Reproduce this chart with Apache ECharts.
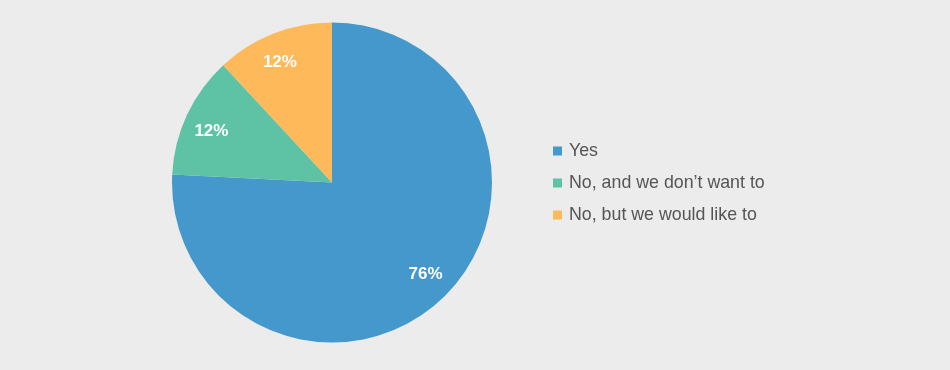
<!DOCTYPE html>
<html><head><meta charset="utf-8">
<script src="https://cdn.jsdelivr.net/npm/echarts@6/dist/echarts.min.js"></script>
<style>html,body{margin:0;padding:0;background:#ebeceb;}#c{width:950px;height:370px;}</style>
</head><body><div id="c"></div>
<script>
const categories = ['Yes', 'No, and we don\u2019t want to', 'No, but we would like to'];
const values = [75.8, 12.3, 11.9];
const labels = ['76%', '12%', '12%'];
const colors = ['#4598cb', '#5ec3a4', '#feb95a'];

const chart = echarts.init(document.getElementById('c'), null, { renderer: 'canvas' });
chart.setOption({
  backgroundColor: '#ebeceb',
  animation: false,
  legend: {
    orient: 'vertical', left: 548, top: 137,
    itemWidth: 9, itemHeight: 9, itemGap: 14, icon: 'rect',
    textStyle: { color: '#555', fontSize: 17.8, fontFamily: 'Liberation Sans', padding: [0, 0, 0, 2] },
    data: categories
  },
  series: [
    {
      type: 'pie', center: [332, 182.5], radius: [0, 160], startAngle: 90, clockwise: true,
      label: { show: false }, labelLine: { show: false }, silent: true,
      data: categories.map((name, i) => ({ name, value: values[i], itemStyle: { color: colors[i] } }))
    },
    {
      type: 'pie', center: [332, 182.5], radius: [96, 160], startAngle: 92, clockwise: true,
      silent: true, labelLine: { show: false }, legendHoverLink: false,
      label: { show: true, position: 'inside', formatter: p => labels[p.dataIndex], color: '#fff', fontSize: 17, fontWeight: 'bold', fontFamily: 'Liberation Sans' },
      data: categories.map((name, i) => ({ name: name + ' ', value: values[i], itemStyle: { color: 'rgba(0,0,0,0)' } }))
    }
  ]
});
</script></body></html>
